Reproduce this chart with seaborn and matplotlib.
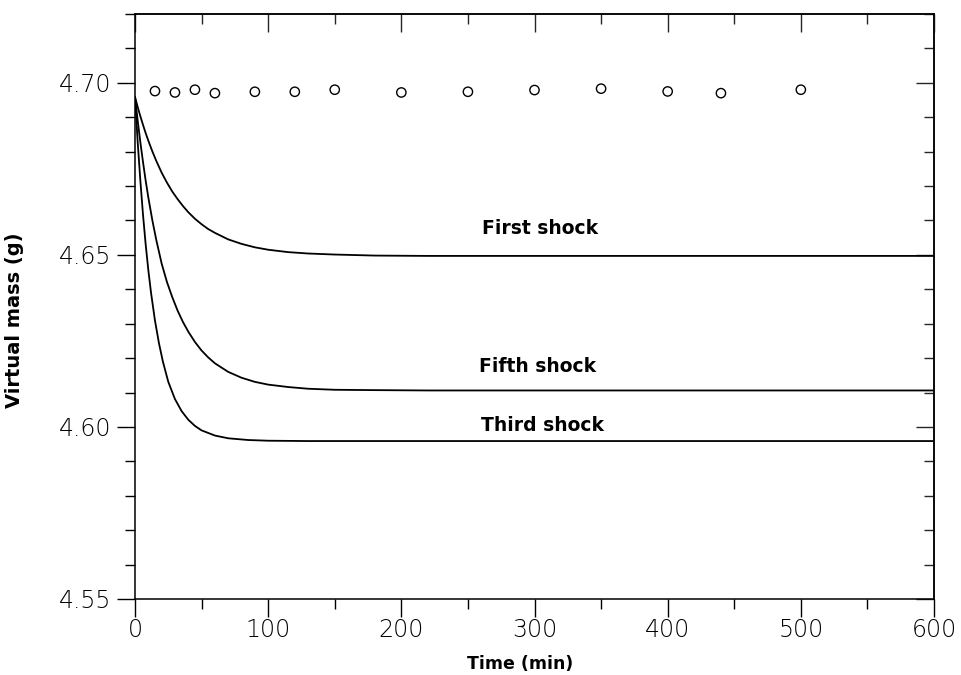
import matplotlib
matplotlib.use("Agg")
import matplotlib.pyplot as plt
from matplotlib.ticker import MultipleLocator, FormatStrFormatter
import seaborn as sns
import pandas as pd

# ---- data ----
t_first = [0, 2, 4, 6, 8, 10, 13, 16, 20, 24, 28, 32, 36, 40, 45, 50, 55, 60, 70, 80, 90,
           100, 115, 130, 150, 180, 220, 300, 400, 500, 600]
m_first = [4.6959, 4.6930, 4.6903, 4.6878, 4.6854, 4.6832, 4.6801, 4.6773, 4.6739, 4.6710,
           4.6684, 4.6662, 4.6642, 4.6624, 4.6605, 4.6589, 4.6575, 4.6564, 4.6545, 4.6532,
           4.6522, 4.6515, 4.6508, 4.6504, 4.6501, 4.6498, 4.6497, 4.6497, 4.6497, 4.6497, 4.6497]

t_fifth = [0, 2, 4, 6, 8, 10, 13, 16, 20, 24, 28, 32, 36, 40, 45, 50, 55, 60, 70, 80, 90,
           100, 115, 130, 150, 180, 220, 300, 400, 500, 600]
m_fifth = [4.6959, 4.6891, 4.6828, 4.6770, 4.6716, 4.6667, 4.6601, 4.6543, 4.6475, 4.6421,
           4.6377, 4.6338, 4.6305, 4.6277, 4.6247, 4.6222, 4.6202, 4.6185, 4.6160, 4.6143,
           4.6131, 4.6123, 4.6116, 4.6111, 4.6108, 4.6107, 4.6106, 4.6106, 4.6106, 4.6106, 4.6106]

t_third = [0, 2, 4, 6, 8, 10, 12, 15, 18, 21, 25, 30, 35, 40, 45, 50, 60, 70, 85, 100, 130,
           200, 300, 400, 500, 600]
m_third = [4.6958, 4.6829, 4.6717, 4.6617, 4.6531, 4.6456, 4.6391, 4.6309, 4.6243, 4.6189,
           4.6131, 4.6081, 4.6046, 4.6021, 4.6003, 4.5990, 4.5975, 4.5967, 4.5962, 4.5960,
           4.5959, 4.5959, 4.5959, 4.5959, 4.5959, 4.5959]

t_meas = [15, 30, 45, 60, 90, 120, 150, 200, 250, 300, 350, 400, 440, 500]
m_meas = [4.6976, 4.6972, 4.6980, 4.6970, 4.6974, 4.6974, 4.6980, 4.6972, 4.6974, 4.6979,
          4.6983, 4.6975, 4.6970, 4.6980]

labels = ["First shock", "Fifth shock", "Third shock"]
label_t = [304, 302, 306]
label_m = [4.6576, 4.6176, 4.6004]

# ---- build tables ----
curves = pd.concat([
    pd.DataFrame({"t": t_first, "m": m_first, "series": "First shock"}),
    pd.DataFrame({"t": t_fifth, "m": m_fifth, "series": "Fifth shock"}),
    pd.DataFrame({"t": t_third, "m": m_third, "series": "Third shock"}),
])
meas = pd.DataFrame({"t": t_meas, "m": m_meas})

sns.set_theme(style="white")
plt.rcParams["font.family"] = ["DejaVu Sans"]

fig = plt.figure(figsize=(9.61, 6.75), dpi=100)
ax = fig.add_axes([135 / 961, 1 - 599 / 675, (934 - 135) / 961, (599 - 14) / 675])

sns.lineplot(data=curves, x="t", y="m", units="series", estimator=None, color="black",
             linewidth=1.3, ax=ax, legend=False, sort=False)
sns.scatterplot(data=meas, x="t", y="m", ax=ax, marker="o", s=45, facecolor="none",
                edgecolor="black", linewidth=1.0, legend=False)

for lab, tx, my in zip(labels, label_t, label_m):
    ax.text(tx, my, lab, ha="center", va="center", fontsize=13.5, fontweight="semibold",
            color="black")

ax.set_xlim(0, 600)
ax.set_ylim(4.55, 4.72)
ax.xaxis.set_major_locator(MultipleLocator(100))
ax.xaxis.set_minor_locator(MultipleLocator(50))
ax.yaxis.set_major_locator(MultipleLocator(0.05))
ax.yaxis.set_minor_locator(MultipleLocator(0.01))
ax.yaxis.set_major_formatter(FormatStrFormatter("%.2f"))

for s in ax.spines.values():
    s.set_color("black")
    s.set_linewidth(1.1)

# bottom / left outward
ax.tick_params(axis="both", which="major", length=13, width=1.0, color="black",
               labelsize=17, labelcolor="black")
ax.tick_params(axis="both", which="minor", length=7, width=1.0, color="black")
ax.tick_params(axis="x", which="both", direction="out", bottom=True, top=False)
ax.tick_params(axis="x", which="major", pad=1)
ax.tick_params(axis="y", which="both", direction="out", left=True, right=False)
ax.tick_params(axis="y", which="major", pad=4)

# inward ticks on top and right
axt = ax.secondary_xaxis("top")
axt.xaxis.set_major_locator(MultipleLocator(100))
axt.xaxis.set_minor_locator(MultipleLocator(50))
axt.tick_params(which="major", direction="in", length=13, width=1.0, labeltop=False)
axt.tick_params(which="minor", direction="in", length=7, width=1.0)
axr = ax.secondary_yaxis("right")
axr.yaxis.set_major_locator(MultipleLocator(0.05))
axr.yaxis.set_minor_locator(MultipleLocator(0.01))
axr.tick_params(which="major", direction="in", length=13, width=1.0, labelright=False)
axr.tick_params(which="minor", direction="in", length=7, width=1.0)

for lab in ax.get_xticklabels() + ax.get_yticklabels():
    lab.set_fontweight("light")

ax.set_xlabel("Time (min)", fontsize=12.5, fontweight="semibold", color="black")
ax.set_ylabel("Virtual mass (g)", fontsize=14, fontweight="semibold", color="black")
ax.xaxis.set_label_coords((520 - 135) / 799, (599 - 655) / 585)
ax.yaxis.set_label_coords((24 - 135) / 799, (599 - 320) / 585)

fig.savefig("out.png", dpi=100)
